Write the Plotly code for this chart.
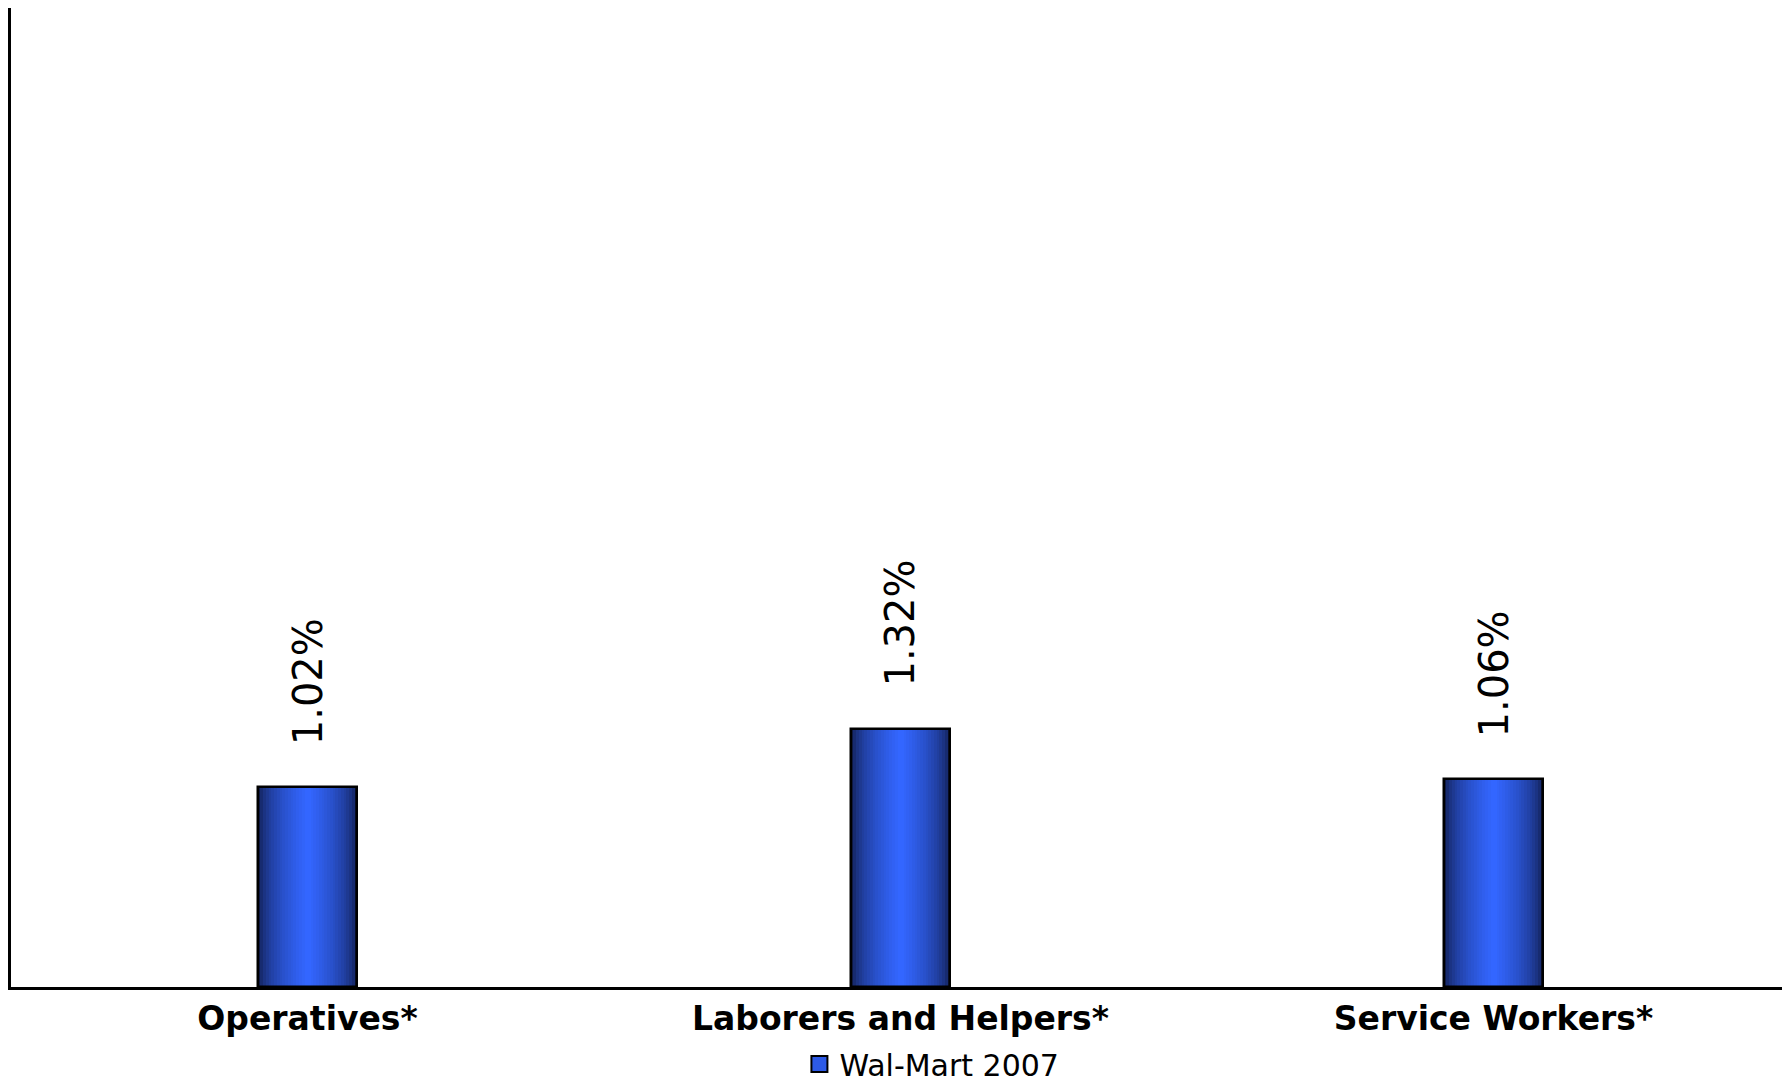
import plotly.graph_objects as go

categories = ["Operatives*", "Laborers and Helpers*", "Service Workers*"]
values = [1.02, 1.32, 1.06]
value_labels = ["1.02%", "1.32%", "1.06%"]
series_name = "Wal-Mart 2007"

BAR_WIDTH = 0.1686
N_LAYERS = 18
EDGE = (14, 24, 66)
CENTER = (51, 102, 255)


def mix(t):
    r = [int(round(EDGE[k] + (CENTER[k] - EDGE[k]) * t)) for k in range(3)]
    return f"rgb({r[0]},{r[1]},{r[2]})"


fig = go.Figure()

# layered bars to imitate the horizontal gradient fill
for i in range(N_LAYERS):
    frac = i / (N_LAYERS - 1)
    w = BAR_WIDTH * (1 - 0.94 * frac)
    t = min(1.0, frac ** 0.5)
    fig.add_trace(go.Bar(
        x=categories, y=values, width=w,
        marker=dict(color=mix(t), line=dict(width=0)),
        showlegend=False, hoverinfo="skip",
    ))

# outline
fig.add_trace(go.Bar(
    x=categories, y=values, width=BAR_WIDTH,
    marker=dict(color="rgba(0,0,0,0)", line=dict(color="black", width=2.5)),
    showlegend=False, hoverinfo="skip",
))

# legend entry
fig.add_trace(go.Scatter(
    x=[None], y=[None], name=series_name, mode="markers",
    marker=dict(symbol="square", size=26, color="rgb(45,90,230)",
                line=dict(color="black", width=2)),
    showlegend=True,
))

for c, v, lab in zip(categories, values, value_labels):
    fig.add_annotation(
        x=c, y=v, text=lab, showarrow=False, textangle=-90,
        yanchor="bottom", xanchor="center", yshift=40,
        font=dict(family="DejaVu Sans", size=40, color="black"),
    )

fig.update_layout(
    width=1774, height=1074,
    margin=dict(l=3, r=0, t=0, b=95, autoexpand=False),
    paper_bgcolor="white", plot_bgcolor="white",
    barmode="overlay",
    bargap=0,
    showlegend=True,
    legend=dict(
        orientation="h", x=0.52, xanchor="center", y=-0.0787, yanchor="middle",
        font=dict(family="DejaVu Sans", size=30, color="black"),
        itemsizing="trace", itemwidth=30,
    ),
    xaxis=dict(
        range=[-0.5, 2.4865], showline=True, linecolor="black", linewidth=3,
        showgrid=False, zeroline=False,
        ticks="", automargin=False,
        tickfont=dict(family="DejaVu Sans", size=33, color="black", weight="bold"),
    ),
    yaxis=dict(
        range=[0, 5], showline=True, linecolor="black", linewidth=3,
        showgrid=False, zeroline=False, showticklabels=False, ticks="",
        automargin=False,
    ),
)

fig.write_html("out.html")
